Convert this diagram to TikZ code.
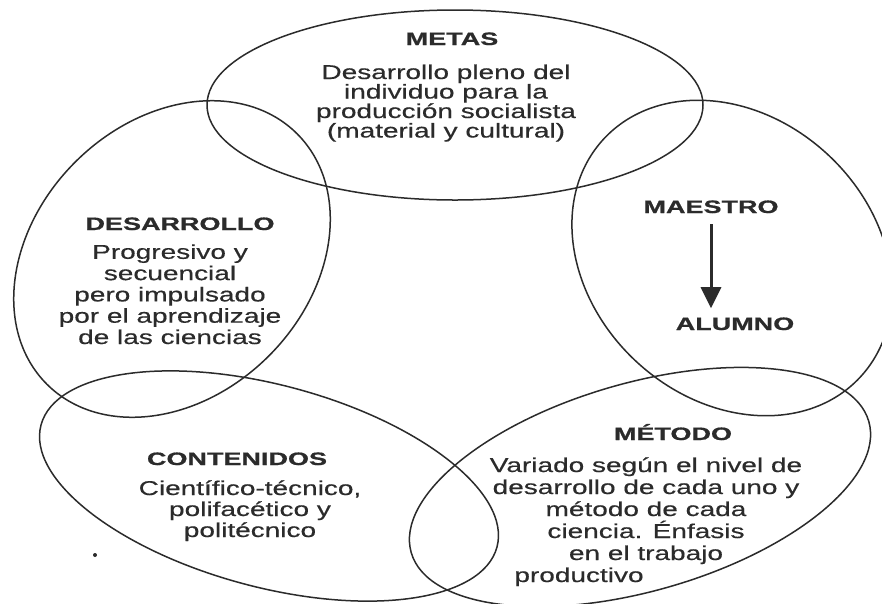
\documentclass[tikz,border=0pt]{standalone}
\usepackage{fontspec}
\setmainfont{Liberation Sans}
\newfontfamily\bodyfont{Liberation Sans}[FakeStretch=1.4,FakeBold=0.4]
\newfontfamily\titlefont{Liberation Sans}[FakeStretch=1.5,FakeBold=0.8]
\usetikzlibrary{arrows.meta}
\definecolor{ink}{HTML}{2B2B2B}
\begin{document}
\begin{tikzpicture}[x=1pt,y=-1pt,
  ring/.style={draw=ink, line width=1.5pt},
  ttl/.style={font=\titlefont\bfseries\fontsize{18}{20}\selectfont, text=ink, inner sep=0pt, anchor=base},
  body/.style={font=\bodyfont\fontsize{20}{#1}\selectfont, text=ink, inner sep=0pt, anchor=base, align=center},
  arr/.style={draw=ink, line width=3pt, -{Triangle[length=21pt,width=20pt]}}
]
\useasboundingbox (0,0) rectangle (882,603);
\fill[white] (0,0) rectangle (882,603);

% ellipses
\draw[ring] (455,105) ellipse [x radius=248, y radius=95];
\draw[ring, rotate around={45:(172,259)}] (172,259) ellipse [x radius=177, y radius=137];
\draw[ring, rotate around={-43:(732,258)}] (732,258) ellipse [x radius=175, y radius=141];
\draw[ring, rotate around={-15:(269,486)}] (269,486) ellipse [x radius=236, y radius=101];
\draw[ring, rotate around={16:(640,487)}] (640,487) ellipse [x radius=238, y radius=104];

% texts (body nodes are placed by the baseline of their last line)
\node[ttl] (metas) at (452,45) {METAS};
\node[body=19.5] (metasb) at (446,137.5) {Desarrollo pleno del\\individuo para la\\producción socialista\\(material y cultural)};

\node[ttl] (desa) at (180,230) {DESARROLLO};
\node[body=21.3] (desab) at (170,344) {Progresivo y\\secuencial\\pero impulsado\\por el aprendizaje\\de las ciencias};

\node[ttl] (maestro) at (711,213) {MAESTRO};
\node[ttl] (alumno) at (735,330) {ALUMNO};
\draw[arr, shorten <=11pt, shorten >=9pt] (maestro.south) -- (maestro.south |- alumno.north);

\node[ttl] (metodo) at (673,440) {MÉTODO};
\node[body=22] (metodob) at (646,582) {Variado según el nivel de\\desarrollo de cada uno y\\método de cada\\ciencia. Énfasis\\en el trabajo\hspace*{80pt}\\productivo\hspace*{134pt}};

\node[ttl] (conte) at (237,465) {CONTENIDOS};
\node[body=21] (conteb) at (250,537) {Científico-técnico,\\polifacético y\\politécnico};

\fill[ink] (95,555) circle (2);
\end{tikzpicture}
\end{document}
